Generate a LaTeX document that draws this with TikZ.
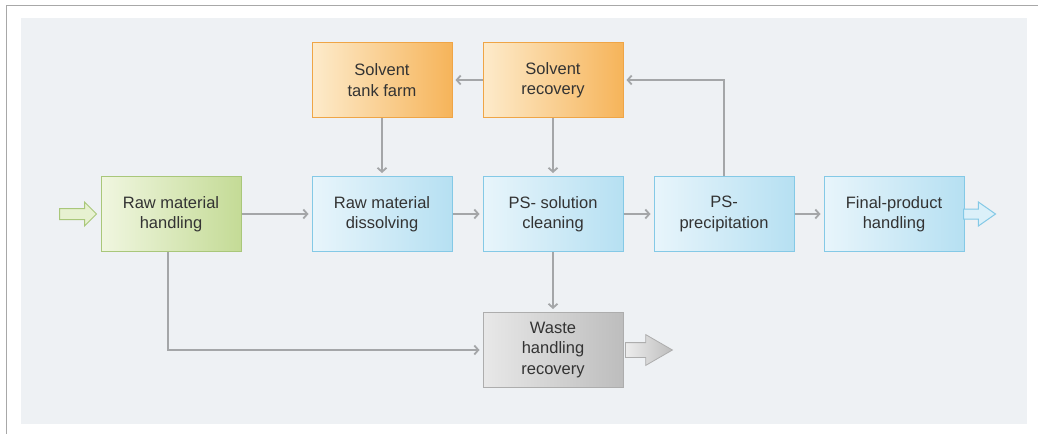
\documentclass[tikz,border=0pt]{standalone}
\usepackage{fontspec}
\setmainfont{Liberation Sans}
\usetikzlibrary{arrows.meta,shapes.arrows}

\definecolor{panelbg}{HTML}{EEF1F4}
\definecolor{framegray}{HTML}{A8A8A8}
\definecolor{flowgray}{HTML}{A4A6A8}
\definecolor{textgray}{HTML}{333333}
\definecolor{greenL}{HTML}{F0F6E0}
\definecolor{greenR}{HTML}{C4DB96}
\definecolor{greenline}{HTML}{A9C77A}
\definecolor{blueL}{HTML}{E8F5FB}
\definecolor{blueR}{HTML}{B6E0F2}
\definecolor{blueline}{HTML}{84C9E6}
\definecolor{orangeL}{HTML}{FDEBCB}
\definecolor{orangeR}{HTML}{F6B45A}
\definecolor{orangeline}{HTML}{EFA546}
\definecolor{grayL}{HTML}{E8E8E8}
\definecolor{grayR}{HTML}{BDBDBD}
\definecolor{grayline}{HTML}{ADADAD}

\tikzset{
  box/.style={draw, line width=1pt, minimum width=140pt, minimum height=75pt,
    inner sep=2pt, align=center, text=textgray,
    font=\fontsize{16.5}{20.5}\selectfont},
  greenbox/.style={box, draw=greenline, left color=greenL, right color=greenR},
  bluebox/.style={box, draw=blueline, left color=blueL, right color=blueR},
  orangebox/.style={box, draw=orangeline, left color=orangeL, right color=orangeR},
  graybox/.style={box, draw=grayline, left color=grayL, right color=grayR},
  flow/.style={draw=flowgray, line width=1.8pt,
    -{Straight Barb[length=4pt,width=9pt]}, shorten >=3pt},
}

\begin{document}
\begin{tikzpicture}[x=1pt, y=-1pt]
    \useasboundingbox (0,0) rectangle (1038,434);
    % Frame and panel
    \draw[framegray, line width=1pt] (1038,5) -- (6,5) -- (6,434);
    \fill[panelbg] (21,18) rectangle (1027,424);

    % Main line
    \node[greenbox] (raw) at (171,214) {Raw material\\handling};
    \node[bluebox] (dissolve) at (382,214) {Raw material\\dissolving};
    \node[bluebox] (clean) at (553,214) {PS- solution\\cleaning};
    \node[bluebox] (precip) at (724,214) {PS-\\precipitation};
    \node[bluebox] (final) at (894,214) {Final-product\\handling};

    % Solvent loop
    \node[orangebox] (tank) at (382,80) {Solvent\\tank farm};
    \node[orangebox] (recovery) at (553,80) {Solvent\\recovery};

    % Waste
    \node[graybox] (waste) at (553,350) {Waste\\handling\\recovery};

    % In and out arrows
    \node[single arrow, anchor=tail, draw=greenline, fill=greenL!80!greenR, line width=1pt,
      minimum height=37pt, minimum width=24pt, inner sep=5pt,
      single arrow head extend=6.5pt] (input) at (59,214) {};
    \node[single arrow, anchor=tail, draw=blueline, fill=blueL!75!blueR, line width=1pt,
      minimum height=32pt, minimum width=23pt, inner sep=4.5pt,
      single arrow tip angle=70, single arrow head extend=7pt] (output) at (963,214) {};
    \node[single arrow, anchor=tail, draw=grayline, left color=grayL!80!white, right color=grayR,
      line width=0.8pt, minimum height=47pt, minimum width=30pt, inner sep=7pt,
      single arrow tip angle=60, single arrow head extend=8pt] (wasteout) at (625,350) {};

    % Connectors
    \draw[flow] (raw) -- (dissolve);
    \draw[flow] (dissolve) -- (clean);
    \draw[flow] (clean) -- (precip);
    \draw[flow] (precip) -- (final);
    \draw[flow] (tank) -- (dissolve);
    \draw[flow] (recovery) -- (tank);
    \draw[flow] (recovery) -- (clean);
    \draw[flow] (clean) -- (waste);
    \draw[flow] (precip.north) |- (recovery.east);
    \draw[flow] ([xshift=-3pt]raw.south) |- (waste.west);
\end{tikzpicture}
\end{document}
